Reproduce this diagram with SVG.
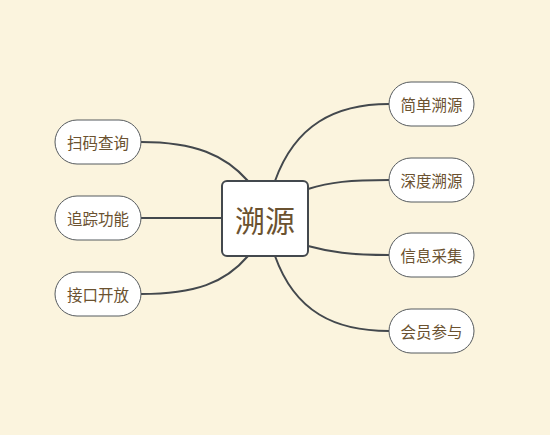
<svg xmlns="http://www.w3.org/2000/svg" width="550" height="435" viewBox="0 0 550 435">
<style>
.bg{fill:#fbf4de}
.pill{fill:#ffffff;stroke:#555a5e;stroke-width:1}
.center{fill:#ffffff;stroke:#43484d;stroke-width:2}
.edge{fill:none;stroke:#43484d;stroke-width:2}
.t{font-family:"Noto Sans CJK SC","Noto Sans",sans-serif;fill:#6b5230;text-anchor:middle;dominant-baseline:central}
.s{font-size:15.5px}
.c{font-size:30px}
</style>
<rect class="bg" x="0" y="0" width="550" height="435"/>
<g id="connectors">
<path class="edge" d="M275,181 C295,125 335,104 389,104"/>
<path class="edge" d="M308,189 C330,182 350,180 389,180"/>
<path class="edge" d="M308,246 C330,252 350,255 389,255"/>
<path class="edge" d="M275,256 C295,312 335,331 389,331"/>
<path class="edge" d="M248,181 C225,155 195,142 141,142"/>
<path class="edge" d="M222,218 L141,218"/>
<path class="edge" d="M248,256 C225,283 195,294 141,294"/>
</g>
<g id="n-center">
<rect class="center" x="222" y="181" width="86" height="75" rx="5"/>
<text class="t c" x="265" y="219">溯源</text>
</g>
<g id="n-r1"><rect class="pill" x="389" y="82" width="85" height="44" rx="22"/><text class="t s" x="431.5" y="104">简单溯源</text></g>
<g id="n-r2"><rect class="pill" x="389" y="158" width="85" height="44" rx="22"/><text class="t s" x="431.5" y="180">深度溯源</text></g>
<g id="n-r3"><rect class="pill" x="389" y="233" width="85" height="44" rx="22"/><text class="t s" x="431.5" y="255">信息采集</text></g>
<g id="n-r4"><rect class="pill" x="389" y="309" width="85" height="44" rx="22"/><text class="t s" x="431.5" y="331">会员参与</text></g>
<g id="n-l1"><rect class="pill" x="55" y="120" width="86" height="44" rx="22"/><text class="t s" x="98" y="142">扫码查询</text></g>
<g id="n-l2"><rect class="pill" x="55" y="196" width="86" height="44" rx="22"/><text class="t s" x="98" y="218">追踪功能</text></g>
<g id="n-l3"><rect class="pill" x="55" y="272" width="86" height="44" rx="22"/><text class="t s" x="98" y="294">接口开放</text></g>
</svg>
